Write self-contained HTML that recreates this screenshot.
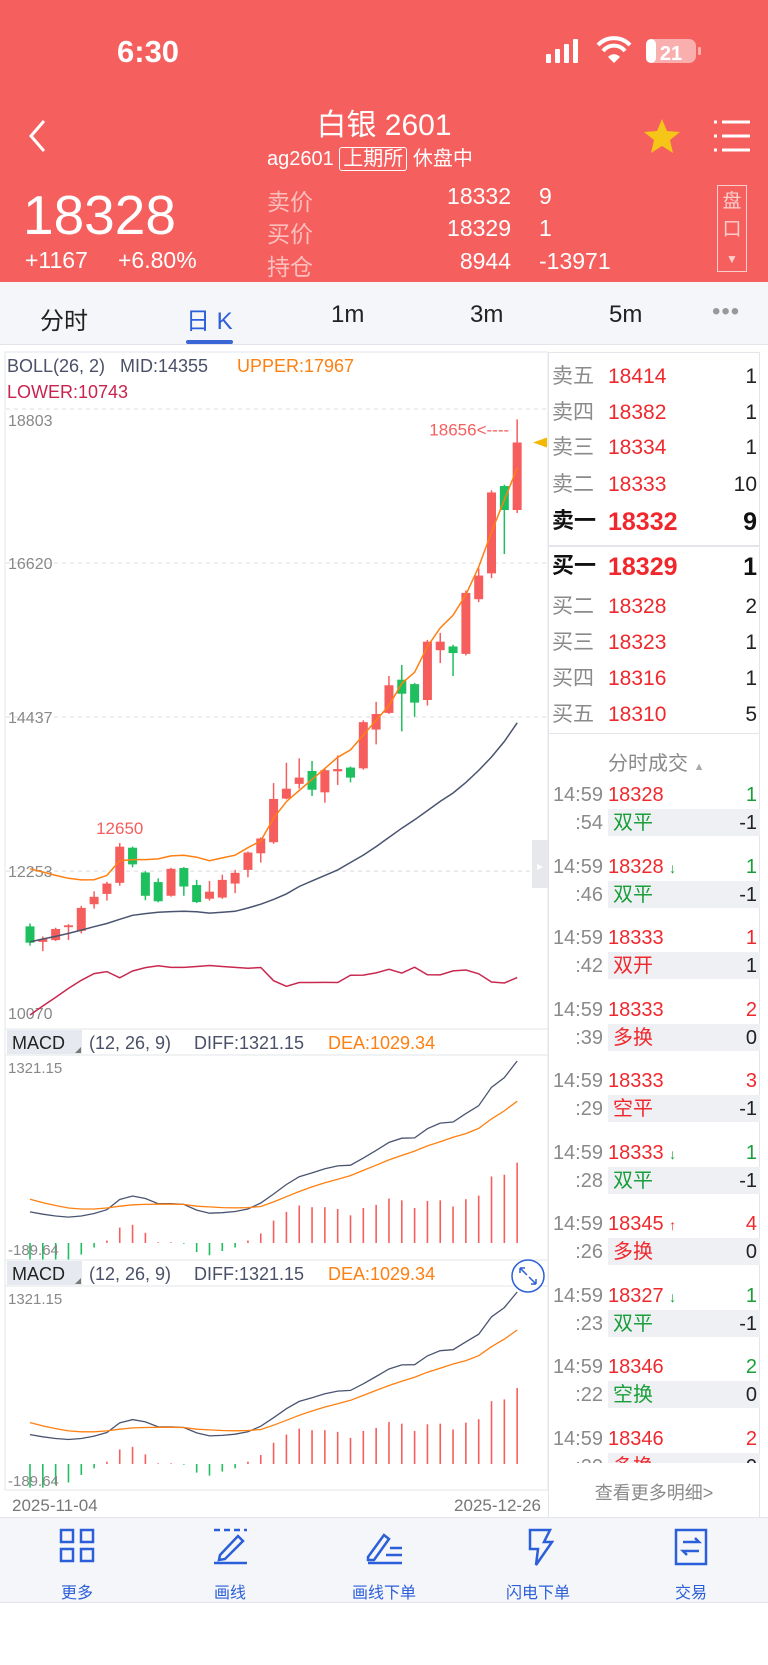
<!DOCTYPE html>
<html><head><meta charset="utf-8">
<style>
*{margin:0;padding:0;box-sizing:border-box}
body{width:768px;height:1665px;background:#fff;position:relative;overflow:hidden;font-family:"Liberation Sans","Noto Sans CJK SC",sans-serif}
.a{position:absolute;white-space:nowrap}
.hdr{position:absolute;left:0;top:0;width:768px;height:282px;background:#f55f5e}
.w{color:#fff}
.lbl{color:rgba(255,255,255,0.6);font-size:23px}
.ob{font-size:21px;line-height:1}
.obl{color:#8a8a8a}
.obp{color:#f0282d}
.obq{color:#222;text-align:right;width:60px}
.tr{font-size:20px;line-height:1}
.gray{color:#8a8a8a}
.red{color:#f0282d}
.green{color:#1a9e3a}
.nav{color:#2b5fd9;font-size:16px;text-align:center;width:100px}
</style></head>
<body>
<div class="hdr"></div>
<div class="a w" style="left:117px;top:34px;font-size:31px;font-weight:bold">6:30</div>
<svg class="a" style="left:540px;top:36px" width="170" height="32">
<rect x="6" y="18" width="5" height="9" rx="1" fill="#fff"/><rect x="15" y="13" width="5" height="14" rx="1" fill="#fff"/><rect x="24" y="8" width="5" height="19" rx="1" fill="#fff"/><rect x="33" y="3" width="5" height="24" rx="1" fill="#fff"/>
<path d="M58 9 a22 22 0 0 1 32 0" stroke="#fff" stroke-width="4" fill="none"/><path d="M63 15 a14 14 0 0 1 22 0" stroke="#fff" stroke-width="4" fill="none"/><path d="M68 21 l6 6 l6 -6 a8 8 0 0 0 -12 0z" fill="#fff"/>
<rect x="106" y="3" width="50" height="24" rx="7" fill="rgba(255,255,255,0.5)"/><rect x="106" y="3" width="10" height="24" rx="5" fill="#fff"/><rect x="158" y="11" width="3" height="8" rx="1" fill="rgba(255,255,255,0.5)"/>
<text x="131" y="24" font-size="20" font-weight="bold" fill="#fff" text-anchor="middle" font-family="Liberation Sans">21</text></svg>
<svg class="a" style="left:26px;top:118px" width="24" height="36"><path d="M18 3 L5 18 L18 33" stroke="#fff" stroke-width="3" fill="none"/></svg>
<div class="a w" style="left:0;width:768px;text-align:center;top:100px;font-size:30px">白银 2601</div>
<div class="a w" style="left:267px;top:142px;font-size:20px">ag2601 <span style="border:1.5px solid #fff;border-radius:3px;padding:0 3px">上期所</span> 休盘中</div>
<svg class="a" style="left:642px;top:117px" width="40" height="38"><polygon points="20,2 25,14 38,15 28,23 31,36 20,29 9,36 12,23 2,15 15,14" fill="#f5c518"/></svg>
<svg class="a" style="left:712px;top:118px" width="40" height="36"><g stroke="#fff" stroke-width="3"><line x1="2" y1="4" x2="5" y2="4"/><line x1="10" y1="4" x2="38" y2="4"/><line x1="2" y1="18" x2="5" y2="18"/><line x1="10" y1="18" x2="38" y2="18"/><line x1="2" y1="32" x2="5" y2="32"/><line x1="10" y1="32" x2="38" y2="32"/></g></svg>
<div class="a w" style="left:23px;top:183px;font-size:55px">18328</div>
<div class="a w" style="left:25px;top:247px;font-size:23px">+1167</div>
<div class="a w" style="left:118px;top:247px;font-size:23px">+6.80%</div>
<div class="a lbl" style="left:267px;top:183px">卖价</div>
<div class="a lbl" style="left:267px;top:215px">买价</div>
<div class="a lbl" style="left:267px;top:248px">持仓</div>
<div class="a w" style="left:411px;width:100px;text-align:right;top:183px;font-size:23px">18332</div>
<div class="a w" style="left:539px;top:183px;font-size:23px">9</div>
<div class="a w" style="left:411px;width:100px;text-align:right;top:215px;font-size:23px">18329</div>
<div class="a w" style="left:539px;top:215px;font-size:23px">1</div>
<div class="a w" style="left:411px;width:100px;text-align:right;top:248px;font-size:23px">8944</div>
<div class="a w" style="left:539px;top:248px;font-size:23px">-13971</div>
<div class="a" style="left:717px;top:185px;width:30px;height:87px;border:1.5px solid rgba(255,255,255,0.7);color:rgba(255,255,255,0.7);font-size:19px;text-align:center;line-height:28px;padding-top:2px">盘<br>口<br><span style="font-size:12px">▼</span></div>

<div class="a" style="left:0;top:282px;width:768px;height:63px;background:#f5f6f9;border-bottom:1px solid #e3e5ea"></div>
<div class="a" style="left:40px;top:301px;font-size:24px;color:#222">分时</div>
<div class="a" style="left:186px;top:301px;font-size:24px;color:#2b5fd9">日 K</div>
<div class="a" style="left:186px;top:340px;width:47px;height:4px;border-radius:2px;background:#3a66d6"></div>
<div class="a" style="left:331px;top:301px;font-size:24px;color:#222">1m</div>
<div class="a" style="left:470px;top:301px;font-size:24px;color:#222">3m</div>
<div class="a" style="left:609px;top:301px;font-size:24px;color:#222">5m</div>
<div class="a" style="left:712px;top:298px;font-size:24px;color:#999;letter-spacing:1px">•••</div>

<svg id="chart" class="a" style="left:0;top:0" width="548" height="1520"></svg>

<div class="a" style="left:548px;top:352px;width:212px;height:1165px;border:1px solid #e3e5ea;border-bottom:none"></div>
<div id="ob"></div>
<div class="a" style="left:549px;top:545px;width:210px;height:2px;background:#e3e5ea"></div>
<div class="a" style="left:549px;top:733px;width:210px;height:1px;background:#e3e5ea"></div>
<div class="a gray" style="left:608px;top:747px;font-size:20px">分时成交 <span style="font-size:11px;color:#aaa">▲</span></div>
<div class="a" style="left:549px;top:780px;width:211px;height:683px;overflow:hidden"><div id="tr" style="position:relative"></div></div>
<div class="a gray" style="left:548px;width:212px;text-align:center;top:1479px;font-size:18px">查看更多明细&gt;</div>

<div class="a" style="left:0;top:1517px;width:768px;height:86px;background:#f5f6f9;border-top:1px solid #e3e5ea;border-bottom:1px solid #e3e5ea"></div>
<svg class="a" style="left:0;top:1527px" width="768" height="40" stroke="#2b5fd9" stroke-width="2.5" fill="none">
<rect x="61" y="3" width="12" height="12"/><rect x="81" y="3" width="12" height="12"/><rect x="61" y="22" width="12" height="12"/><rect x="81" y="22" width="12" height="12"/>
<line x1="214" y1="3" x2="247" y2="3" stroke-dasharray="6 4"/><path d="M220 28 L238 9 L243 14 L225 32 L219 33z"/><line x1="214" y1="36" x2="247" y2="36"/>
<path d="M368 30 L384 8 L389 12 L374 33 L368 33z"/><line x1="368" y1="36" x2="402" y2="36"/><line x1="390" y1="21" x2="402" y2="21"/><line x1="386" y1="28" x2="402" y2="28"/>
<path d="M530 3 L550 3 L544 15 L552 15 L536 38 L538 22 L530 22z"/>
<rect x="676" y="3" width="30" height="34"/><path d="M683 15 L699 15 L695 11"/><path d="M699 24 L683 24 L687 28"/>
</svg>
<div class="a nav" style="left:27px;top:1579px">更多</div>
<div class="a nav" style="left:180px;top:1579px">画线</div>
<div class="a nav" style="left:334px;top:1579px">画线下单</div>
<div class="a nav" style="left:488px;top:1579px">闪电下单</div>
<div class="a nav" style="left:641px;top:1579px">交易</div>

<script>
const opens=[11469,11249,11275,11458,11406,11783,11929,12086,12584,12233,12097,11903,12296,12055,11861,11877,12076,12270,12505,12662,13280,13489,13672,13369,13667,13720,13709,14259,14495,14966,14903,14678,15384,15437,15332,16107,16473,17711,17371];
const closes=[11238,11291,11432,11484,11731,11888,12076,12599,12348,11903,11825,12285,12034,11814,11961,12128,12228,12516,12715,13275,13421,13578,13406,13683,13699,13578,14364,14479,14887,14767,14641,15505,15505,15343,16196,16442,17620,17371,18328];
const highs=[11510,11327,11450,11500,11760,11966,12100,12650,12600,12250,12149,12300,12310,12128,12113,12201,12270,12530,12730,13500,13788,13851,13814,13700,13892,13735,14390,14652,15018,15175,14920,15530,15630,15460,16230,16547,17651,17730,18656];
const lows=[11196,11118,11260,11275,11369,11720,11835,12045,12306,11840,11810,11890,11903,11800,11835,11860,11940,12165,12374,12640,13270,13421,13317,13222,13474,13510,13690,14049,14480,14233,14442,14599,15201,15018,15310,16065,16405,16747,17328];
const upper=[12285,12240,12192,12150,12128,12130,12192,12400,12416,12416,12425,12468,12478,12450,12400,12440,12478,12584,12680,13003,13238,13395,13552,13709,13866,13971,14181,14390,14600,14913,15070,15437,15699,15882,16170,16563,17060,17513,17967];
const mid=[11249,11290,11327,11370,11416,11465,11510,11570,11626,11650,11668,11678,11683,11675,11657,11670,11683,11730,11783,11851,11929,12034,12113,12192,12270,12374,12480,12600,12730,12860,12980,13110,13240,13360,13510,13680,13870,14090,14355];
const lower=[10213,10340,10462,10590,10704,10800,10828,10740,10836,10884,10911,10888,10888,10900,10914,10900,10888,10876,10886,10699,10620,10673,10674,10675,10674,10777,10779,10810,10860,10807,10890,10783,10781,10838,10850,10797,10680,10667,10743];
const diff=[226,209,196,188,196,214,242,316,341,323,285,285,280,239,216,220,229,247,290,356,425,481,509,539,560,565,616,672,730,761,763,830,870,878,939,997,1130,1201,1321.15];
const dea=[318,293,272,254,247,247,254,267,277,280,282,282,280,267,262,257,255,257,265,298,336,374,407,438,463,489,527,565,603,636,667,705,735,768,794,832,901,959,1029.34];
const macdBars=[-181,-181,-160,-142,-84,-33,18,112,132,74,5,5,-5,-66,-89,-58,-33,18,69,163,226,272,260,260,247,201,254,277,323,310,254,305,310,265,318,344,483,496,583];
const priceTicks=[18803,16620,14437,12253,10070];
const NS='http://www.w3.org/2000/svg';
const svg=document.getElementById('chart');
function mk(tag,attrs,parent){const e=document.createElementNS(NS,tag);for(const k in attrs)e.setAttribute(k,attrs[k]);(parent||svg).appendChild(e);return e;}
const xAt=i=>30+i*12.82;
const yP=v=>409+(18803-v)*154/2183;
const yM1=v=>1243-v*182/1321.15;
const yM2=v=>1464-v*172/1321.15;
const RED='#f65e5e',GREEN='#1ebf5e';
let f=mk('rect',{x:5,y:352,width:543,height:1138,fill:'none',stroke:'#e3e5ea'});


function txt(x,y,s,fill,size,name,anchor){const t=mk('text',{x:x,y:y,fill:fill,'font-size':size,'font-family':'Liberation Sans, Noto Sans CJK SC, sans-serif','text-anchor':anchor||'start'});t.textContent=s;return t;}
txt(7,372,'BOLL(26, 2)','#4a5068',18,'boll-title');
txt(120,372,'MID:14355','#4a5068',18,'boll-mid-value');
txt(237,372,'UPPER:17967','#ff7f10',18,'boll-upper-value');
txt(7,398,'LOWER:10743','#c8234f',18,'boll-lower-value');
priceTicks.forEach((v,k)=>{const y=yP(v);
 if(v>10070){const g=mk('line',{x1:6,x2:547,y1:y,y2:y,stroke:'#dcdcdc','stroke-dasharray':'4 4'});}
 const off=k==0?17:(k==priceTicks.length-1?-6:6);
 txt(8,y+off,String(v),'#888',16,'y-tick-label');});
function line(arr,fy,color,name,w){let d='';arr.forEach((v,i)=>{d+=(i?'L':'M')+xAt(i).toFixed(1)+' '+fy(v).toFixed(1);});const p=mk('path',{d:d,stroke:color,'stroke-width':w||1.5,fill:'none'});}
opens.forEach((o,i)=>{const c=closes[i],col=c>=o?RED:GREEN,x=xAt(i);
 const wk=mk('line',{x1:x,x2:x,y1:yP(highs[i]),y2:yP(lows[i]),stroke:col,'stroke-width':1.5});
 
 
 const t=yP(Math.max(o,c)),b=yP(Math.min(o,c));
 const r=mk('rect',{x:x-4.5,y:t,width:9,height:Math.max(1.5,b-t),fill:col});
 
 });
line(upper,yP,'#ff7f10','boll-upper-line');
line(mid,yP,'#4a5470','boll-mid-line');
line(lower,yP,'#c8284f','boll-lower-line');
let hi=0;highs.forEach((v,i)=>{if(v>highs[hi])hi=i;});
txt(xAt(hi)-8,yP(highs[hi])+16,highs[hi]+'<----','#f65e5e',17,'max-price-label','end');
txt(xAt(7),yP(highs[7])-9,String(highs[7]),'#f65e5e',17,'local-high-label','middle');
let ar=mk('polygon',{points:`533,${yP(closes[38])} 547,${yP(closes[38])-5} 547,${yP(closes[38])+5}`,fill:'#f5b800'});


let hd=mk('rect',{x:532,y:840,width:16,height:48,fill:'#e6e8ec'});


txt(540,870,'▸','#fff',12,'collapse-arrow','middle');
function macdPanel(top,fy,suffix,minY){
 const bg=mk('rect',{x:5,y:top,width:543,height:26,fill:'#fff',stroke:'#e3e5ea'});
 
 
 const bx=mk('rect',{x:7,y:top+1,width:75,height:24,fill:'#e6e9ef'});
 
 
 const tr=mk('polygon',{points:`75,${top+24} 81,${top+24} 81,${top+18}`,fill:'#777'});
 
 
 txt(12,top+20,'MACD','#222',18,'macd-title');
 txt(89,top+20,'(12, 26, 9)','#4a5068',18,'macd-params');
 txt(194,top+20,'DIFF:1321.15','#4a5068',18,'macd-diff-value');
 txt(328,top+20,'DEA:1029.34','#ff7f10',18,'macd-dea-value');
 txt(8,fy(1321.15)+12,'1321.15','#888',15,'macd-max-label');
 macdBars.forEach((v,i)=>{const b=mk('line',{x1:xAt(i),x2:xAt(i),y1:fy(0),y2:fy(v),stroke:v>=0?'#f65e5e':'#1ebf5e','stroke-width':1.6});
  
  });
 txt(8,minY,'-189.64','#888',15,'macd-min-label');
 line(diff,fy,'#4a5470','diff-line-'+suffix,1.3);
 line(dea,fy,'#ff7f10','dea-line-'+suffix,1.3);}
macdPanel(1029,yM1,'1',1255);
macdPanel(1260,yM2,'2',1486);
let cc=mk('circle',{cx:528,cy:1276,r:16,fill:'#fff',stroke:'#2b5fd9','stroke-width':1.5});


let ca=mk('path',{d:'M520 1268 L527 1275 M520 1268 L520 1273 M520 1268 L525 1268 M536 1284 L529 1277 M536 1284 L536 1279 M536 1284 L531 1284',stroke:'#2b5fd9','stroke-width':1.5,fill:'none'});


txt(12,1511,'2025-11-04','#777',17,'x-start-date');
txt(541,1511,'2025-12-26','#777',17,'x-end-date','end');

const bookLabels=['卖五','卖四','卖三','卖二','卖一','买一','买二','买三','买四','买五'];
const bookPrices=[18414,18382,18334,18333,18332,18329,18328,18323,18316,18310];
const bookQty=[1,1,1,10,9,1,2,1,1,5];
const bookY=[377,413,448,485,523,568,607,643,679,715];
const ob=document.getElementById('ob');
bookLabels.forEach((l,i)=>{const bold=(i==4||i==5);const y=bookY[i]-11-(bold?2:0);
 const row=document.createElement('div');
 
 
 row.innerHTML=`<div class="a ob" style="left:552px;top:${y}px;${bold?'color:#111;font-weight:bold;font-size:22px':'color:#8a8a8a'}">${l}</div><div class="a ob obp" style="left:608px;top:${y}px;${bold?'font-weight:bold;font-size:25px':''}">${bookPrices[i]}</div><div class="a ob obq" style="left:697px;top:${y}px;${bold?'font-weight:bold;font-size:25px;color:#111':''}">${bookQty[i]}</div>`;
 ob.appendChild(row);});
const tMin=['14:59','14:59','14:59','14:59','14:59','14:59','14:59','14:59','14:59','14:59'];
const tSec=[':54',':46',':42',':39',':29',':28',':26',':23',':22',':20'];
const tPrice=[18328,18328,18333,18333,18333,18333,18345,18327,18346,18346];
const tArrow=['','↓','','','','↓','↑','↓','',''];
const tVol=[1,1,1,2,3,1,4,1,2,2];
const tVolUp=[0,0,1,1,1,0,1,0,0,1];
const tType=['双平','双平','双开','多换','空平','双平','多换','双平','空换','多换'];
const tTypeUp=[0,0,1,1,1,0,1,0,0,1];
const tChg=[-1,-1,1,0,-1,-1,0,-1,0,0];
const trd=document.getElementById('tr');
tPrice.forEach((p,i)=>{const y=i*71.5+5;
 const r=document.createElement('div');
 
 
 const ac=tArrow[i]=='↑'?'red':'green';
 r.innerHTML=`<div class="a tr gray" style="left:0;width:54px;text-align:right;top:${y}px">${tMin[i]}</div>
 <div class="a tr red" style="left:59px;top:${y}px">${p} <span class="${ac}" style="font-size:14px;font-weight:bold">${tArrow[i]}</span></div>
 <div class="a tr ${tVolUp[i]?'red':'green'}" style="left:150px;width:58px;text-align:right;top:${y}px">${tVol[i]}</div>
 <div class="a" style="left:59px;top:${y+24}px;width:152px;height:27px;background:#eef0f4"></div>
 <div class="a tr gray" style="left:0;width:54px;text-align:right;top:${y+28}px">${tSec[i]}</div>
 <div class="a tr ${tTypeUp[i]?'red':'green'}" style="left:64px;top:${y+28}px">${tType[i]}</div>
 <div class="a tr" style="left:150px;width:58px;text-align:right;top:${y+28}px;color:#222">${tChg[i]}</div>`;
 trd.appendChild(r);});
</script>
</body></html>
